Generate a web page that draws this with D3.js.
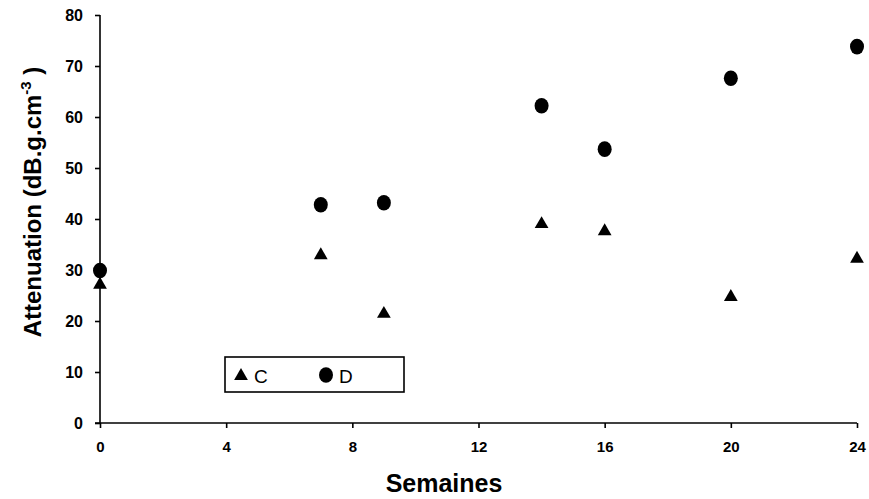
<!DOCTYPE html>
<html>
<head>
<meta charset="utf-8">
<script src="https://cdn.jsdelivr.net/npm/d3@7"></script>
<style>
  html, body { margin: 0; padding: 0; background: #fff; }
  svg { display: block; }
</style>
</head>
<body>
<svg id="chart" width="869" height="499"></svg>
<script>
const weeks = [0, 7, 9, 14, 16, 20, 24];
const seriesC = [27.3, 33.1, 21.6, 39.2, 37.8, 24.9, 32.4];
const seriesD = [29.9, 42.8, 43.2, 62.2, 53.7, 67.6, 73.8];
const xTicks = [0, 4, 8, 12, 16, 20, 24];
const yTicks = [0, 10, 20, 30, 40, 50, 60, 70, 80];
const seriesNames = ["C", "D"];

const svg = d3.select("#chart");
const x = d3.scaleLinear().domain([0, 24]).range([100, 857]);
const y = d3.scaleLinear().domain([0, 80]).range([423, 15]);

// Y axis
const yAxis = svg.append("g")
  .attr("transform", `translate(${x(0)},0)`)
  .call(d3.axisLeft(y).tickValues(yTicks).tickSize(5).tickPadding(12).tickFormat(d3.format("d")));
yAxis.select(".domain").attr("stroke", "#000").attr("stroke-width", 1.6).attr("d", `M0,${y(80)}V${y(0)}`);
yAxis.selectAll(".tick line").attr("stroke", "#000").attr("stroke-width", 1.6);
yAxis.selectAll(".tick text")
  .attr("fill", "#000")
  .style("font-family", "Arial, 'Liberation Sans', sans-serif")
  .style("font-weight", "bold")
  .style("font-size", "16px");

// X axis
const xAxis = svg.append("g")
  .attr("transform", `translate(0,${y(0)})`)
  .call(d3.axisBottom(x).tickValues(xTicks).tickSize(5).tickPadding(13).tickFormat(d3.format("d")));
xAxis.select(".domain").attr("stroke", "#000").attr("stroke-width", 1.6).attr("d", `M${x(0) - 5},0H${x(24)}`);
xAxis.selectAll(".tick line").attr("stroke", "#000").attr("stroke-width", 1.6);
xAxis.selectAll(".tick text")
  .attr("fill", "#000")
  .style("font-family", "'Liberation Sans Narrow', 'Arial Narrow', Arial, sans-serif")
  .style("font-weight", "bold")
  .style("font-size", "15px");

// Axis titles
svg.append("text")
  .attr("x", 444).attr("y", 492)
  .attr("text-anchor", "middle")
  .style("font-family", "Arial, 'Liberation Sans', sans-serif")
  .style("font-weight", "bold")
  .style("font-size", "25px")
  .text("Semaines");

const yt = svg.append("text")
  .attr("transform", "translate(41,202) rotate(-90)")
  .attr("text-anchor", "middle")
  .style("font-family", "Arial, 'Liberation Sans', sans-serif")
  .style("font-weight", "bold")
  .style("font-size", "24px");
yt.append("tspan").text("Attenuation (dB.g.cm");
yt.append("tspan").attr("dy", -10).style("font-size", "15px").text("-3");
yt.append("tspan").attr("dy", 10).text(" )");

// Markers
const tri = d3.symbol().type(d3.symbolTriangle).size(82);
svg.append("g").selectAll("path")
  .data(weeks.map((w, i) => ({w, v: seriesC[i]})))
  .join("path")
  .attr("d", tri)
  .attr("transform", d => `translate(${x(d.w)},${y(d.v) + 1})`)
  .attr("fill", "#000");

svg.append("g").selectAll("ellipse")
  .data(weeks.map((w, i) => ({w, v: seriesD[i]})))
  .join("ellipse")
  .attr("cx", d => x(d.w))
  .attr("cy", d => y(d.v))
  .attr("rx", 7)
  .attr("ry", 7.8)
  .attr("fill", "#000");

// Legend
const lg = svg.append("g");
lg.append("rect")
  .attr("x", 225).attr("y", 357).attr("width", 179).attr("height", 35)
  .attr("fill", "#fff").attr("stroke", "#000").attr("stroke-width", 1.6);
lg.append("path").attr("d", tri).attr("transform", "translate(241,376)").attr("fill", "#000");
lg.append("ellipse").attr("cx", 326).attr("cy", 375).attr("rx", 7).attr("ry", 7.8).attr("fill", "#000");
lg.selectAll("text.lgt")
  .data(seriesNames)
  .join("text")
  .attr("class", "lgt")
  .attr("x", (d, i) => i === 0 ? 254 : 339)
  .attr("y", 383)
  .style("font-family", "Arial, 'Liberation Sans', sans-serif")
  .style("font-size", "19px")
  .text(d => d);
</script>
</body>
</html>
